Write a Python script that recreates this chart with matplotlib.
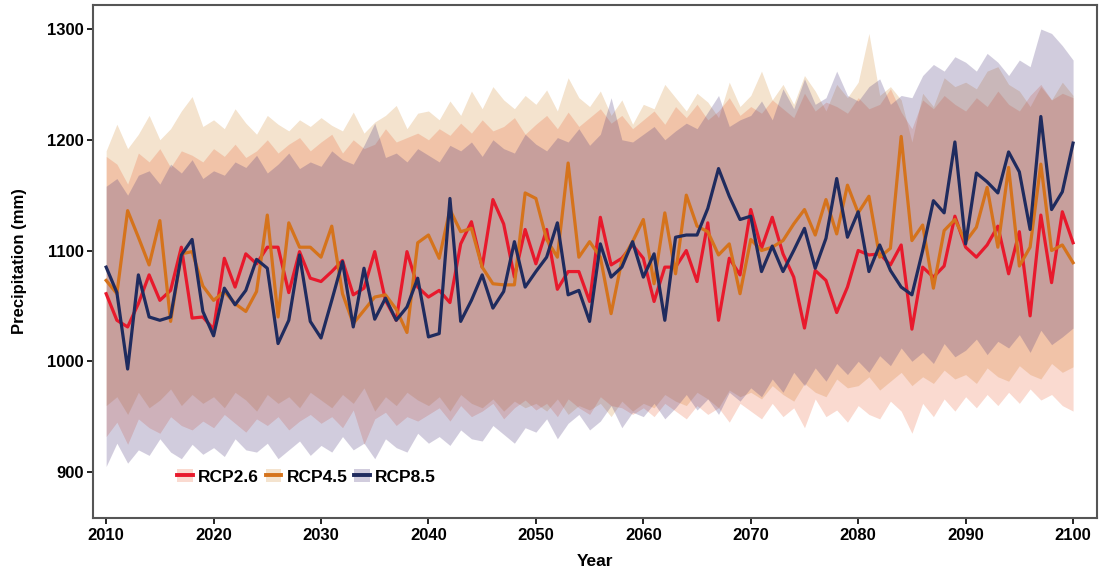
import numpy as np
import matplotlib
matplotlib.use("Agg")
import matplotlib.pyplot as plt
from matplotlib.patches import Patch
from matplotlib.lines import Line2D

plt.rcParams['font.family'] = ['Liberation Sans', 'DejaVu Sans']
plt.rcParams['font.weight'] = 'bold'

years = np.arange(2010, 2101)

# ensemble mean lines
rcp26 = [1061, 1037, 1031, 1052, 1078, 1055, 1064, 1103, 1039, 1040,
         1029, 1093, 1067, 1097, 1088, 1103, 1103, 1062, 1099, 1075,
         1072, 1081, 1091, 1060, 1066, 1099, 1055, 1037, 1099, 1067,
         1058, 1064, 1053, 1106, 1126, 1085, 1146, 1124, 1076, 1119,
         1088, 1119, 1065, 1081, 1081, 1054, 1130, 1087, 1093, 1105,
         1093, 1054, 1085, 1085, 1100, 1072, 1125, 1037, 1093, 1078,
         1137, 1102, 1130, 1097, 1076, 1030, 1082, 1073, 1044, 1067,
         1100, 1096, 1097, 1087, 1105, 1029, 1085, 1076, 1086, 1131,
         1103, 1094, 1105, 1122, 1079, 1117, 1041, 1132, 1071, 1135,
         1107]
rcp45 = [1073, 1061, 1136, 1112, 1087, 1127, 1036, 1097, 1099, 1068,
         1055, 1063, 1052, 1045, 1063, 1132, 1040, 1125, 1103, 1103,
         1094, 1122, 1061, 1034, 1046, 1058, 1060, 1047, 1026, 1107,
         1114, 1093, 1137, 1117, 1120, 1085, 1070, 1069, 1069, 1152,
         1147, 1110, 1094, 1179, 1094, 1108, 1094, 1043, 1091, 1108,
         1128, 1070, 1134, 1079, 1150, 1122, 1117, 1096, 1106, 1061,
         1110, 1100, 1103, 1109, 1124, 1137, 1114, 1146, 1115, 1159,
         1134, 1149, 1094, 1102, 1203, 1109, 1123, 1066, 1118, 1128,
         1108, 1121, 1157, 1103, 1175, 1086, 1103, 1178, 1100, 1105,
         1089]
rcp85 = [1085, 1062, 993, 1078, 1040, 1037, 1040, 1096, 1110, 1045,
         1023, 1066, 1051, 1064, 1092, 1084, 1016, 1037, 1096, 1036,
         1021, 1055, 1090, 1031, 1084, 1038, 1057, 1037, 1049, 1075,
         1022, 1025, 1147, 1036, 1055, 1078, 1048, 1063, 1108, 1067,
         1081, 1094, 1125, 1060, 1064, 1036, 1106, 1076, 1085, 1108,
         1076, 1097, 1037, 1112, 1114, 1114, 1138, 1174, 1149, 1128,
         1131, 1081, 1104, 1081, 1100, 1120, 1084, 1111, 1165, 1112,
         1135, 1081, 1105, 1082, 1067, 1060, 1100, 1145, 1134, 1198,
         1106, 1170, 1162, 1152, 1189, 1171, 1119, 1221, 1137, 1153,
         1197]

# model range (upper / lower)
up26 = [1185, 1178, 1160, 1188, 1180, 1192, 1175, 1190, 1186, 1180,
        1192, 1185, 1196, 1184, 1190, 1200, 1188, 1196, 1202, 1190,
        1198, 1205, 1188, 1200, 1192, 1196, 1210, 1198, 1202, 1206,
        1200, 1210, 1204, 1215, 1206, 1218, 1208, 1212, 1220, 1205,
        1214, 1222, 1210, 1225, 1212, 1220, 1228, 1215, 1222, 1210,
        1218, 1226, 1214, 1230, 1220, 1232, 1218, 1226, 1238, 1222,
        1230, 1224, 1236, 1228, 1220, 1242, 1226, 1234, 1230, 1224,
        1238, 1228, 1232, 1246, 1225, 1210, 1236, 1228, 1240, 1232,
        1226, 1238, 1230, 1244, 1232, 1226, 1240, 1250, 1236, 1242,
        1238]
lo26 = [932, 945, 925, 948, 940, 935, 950, 942, 938, 946,
        940, 952, 944, 936, 948, 942, 950, 938, 946, 952,
        944, 950, 940, 956, 925, 948, 954, 942, 950, 946,
        952, 958, 946, 960, 950, 955, 962, 948, 958, 965,
        956, 962, 950, 966, 958, 952, 968, 960, 958, 952,
        958, 950, 962, 955, 948, 960, 952, 958, 945, 962,
        955, 948, 962, 950, 958, 940, 966, 950, 956, 945,
        960, 952, 948, 964, 955, 935, 962, 950, 966, 955,
        968, 958, 970, 960, 972, 962, 975, 965, 970, 960,
        955]
up45 = [1190, 1214, 1192, 1205, 1222, 1200, 1210, 1226, 1239, 1212,
        1218, 1210, 1228, 1215, 1205, 1222, 1214, 1208, 1218, 1212,
        1220, 1213, 1208, 1225, 1206, 1216, 1222, 1231, 1210, 1224,
        1226, 1218, 1235, 1222, 1244, 1228, 1248, 1236, 1228, 1240,
        1232, 1245, 1226, 1256, 1238, 1230, 1244, 1222, 1236, 1214,
        1232, 1228, 1250, 1238, 1226, 1242, 1234, 1220, 1252, 1230,
        1240, 1262, 1236, 1250, 1232, 1258, 1244, 1226, 1250, 1238,
        1252, 1296, 1240, 1248, 1236, 1198, 1242, 1230, 1256, 1248,
        1252, 1246, 1262, 1266, 1250, 1244, 1230, 1248, 1236, 1252,
        1240]
lo45 = [960, 968, 952, 972, 958, 965, 975, 960, 970, 962,
        968, 958, 972, 965, 955, 970, 962, 968, 958, 972,
        965, 958, 970, 962, 976, 955, 968, 960, 972, 965,
        960, 968, 955, 970, 962, 958, 966, 955, 964, 958,
        962, 955, 966, 952, 960, 956, 962, 950, 964, 955,
        962, 958, 970, 964, 960, 972, 966, 958, 974, 968,
        972, 966, 978, 970, 964, 980, 972, 968, 984, 976,
        978, 986, 974, 982, 990, 978, 986, 980, 992, 984,
        988, 980, 994, 986, 982, 996, 988, 984, 998, 990,
        995]
up85 = [1158, 1165, 1150, 1168, 1172, 1160, 1178, 1170, 1182, 1165,
        1172, 1168, 1180, 1175, 1186, 1170, 1178, 1188, 1174, 1180,
        1176, 1190, 1182, 1178, 1195, 1215, 1184, 1188, 1180, 1192,
        1186, 1180, 1195, 1190, 1198, 1185, 1200, 1192, 1188, 1205,
        1196, 1190, 1202, 1198, 1210, 1195, 1205, 1238, 1200, 1198,
        1205, 1212, 1200, 1208, 1215, 1210, 1225, 1240, 1212, 1218,
        1222, 1235, 1218, 1246, 1228, 1255, 1232, 1238, 1262, 1240,
        1235, 1248, 1255, 1232, 1240, 1238, 1258, 1268, 1262, 1275,
        1270, 1262, 1278, 1270, 1258, 1272, 1266, 1300, 1296, 1285,
        1272]
lo85 = [905, 926, 908, 920, 915, 930, 918, 912, 925, 916,
        922, 914, 930, 920, 918, 926, 912, 920, 928, 915,
        924, 918, 932, 920, 926, 912, 930, 922, 918, 935,
        926, 932, 924, 938, 930, 928, 942, 934, 926, 940,
        936, 948, 930, 944, 952, 938, 946, 960, 940, 954,
        950, 962, 948, 958, 970, 956, 966, 952, 972, 964,
        976, 968, 984, 972, 990, 978, 994, 982, 998, 988,
        1000, 990, 1005, 996, 1012, 1000, 1008, 998, 1016, 1004,
        1010, 1020, 1006, 1018, 1012, 1024, 1008, 1028, 1015, 1022,
        1030]

labels = ['RCP2.6', 'RCP4.5', 'RCP8.5']
line_colors = ['#e8192c', '#d5731c', '#1f2b5e']
fill_colors = ['#e64614', '#c8730a', '#4b377b']
fill_alphas = [0.2, 0.2, 0.25]
means = [rcp26, rcp45, rcp85]
uppers = [up26, up45, up85]
lowers = [lo26, lo45, lo85]

fig = plt.figure(figsize=(11.01, 5.74), dpi=100)
ax = fig.add_axes([0.0847, 0.0976, 0.9114, 0.8937])

# draw order RCP4.5, RCP2.6, RCP8.5
for k in [1, 0, 2]:
    ax.fill_between(years, lowers[k], uppers[k], color=fill_colors[k],
                    alpha=fill_alphas[k], linewidth=0)
for k in range(3):
    ax.plot(years, means[k], color=line_colors[k], linewidth=2.3)

ax.set_xlim(2008.8, 2102.2)
ax.set_ylim(858.5, 1321.7)
ax.set_xticks(np.arange(2010, 2101, 10))
ax.set_yticks([900, 1000, 1100, 1200, 1300])
ax.tick_params(direction='out', length=4, width=1.2, labelsize=12, pad=3)
for lab in ax.get_xticklabels() + ax.get_yticklabels():
    lab.set_fontweight('bold')
for sp in ax.spines.values():
    sp.set_color('#555555')
    sp.set_linewidth(1.5)

ax.set_xlabel('Year', fontsize=12.5, fontweight='bold', labelpad=8)
ax.set_ylabel('Precipitation (mm)', fontsize=12, fontweight='bold', labelpad=14)

handles = []
for k in range(3):
    handles.append((Patch(facecolor=fill_colors[k], alpha=fill_alphas[k], linewidth=0),
                    Line2D([], [], color=line_colors[k], linewidth=2.8)))
ax.legend(handles, labels, ncol=3, frameon=False, loc='center left',
          bbox_to_anchor=(0.068, 0.08), handlelength=0.9, handletextpad=0.3,
          columnspacing=0.4, prop={'weight': 'bold', 'size': 12.5})

fig.savefig('out.png', dpi=100)
